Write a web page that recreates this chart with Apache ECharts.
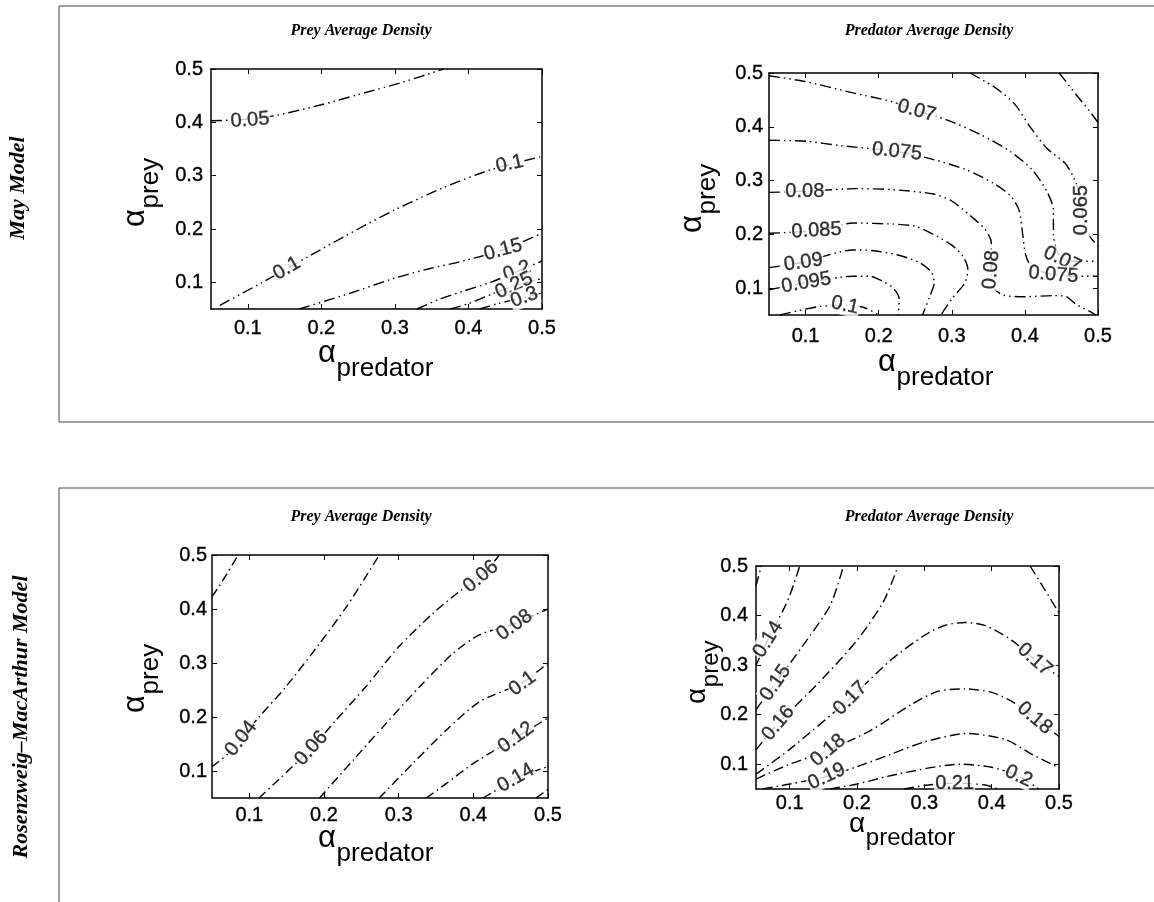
<!DOCTYPE html>
<html>
<head>
<meta charset="utf-8">
<script src="https://cdn.jsdelivr.net/npm/echarts@6/dist/echarts.min.js"></script>
<style>
  html, body { margin: 0; padding: 0; background: #fff; }
  #chart { width: 1154px; height: 902px; }
</style>
</head>
<body>
<div id="chart"></div>
<script>
// Shared axis settings: both parameters run from 0.05 to 0.5
const axisRange = [0.05, 0.5];
const xTicks = [0.1, 0.2, 0.3, 0.4, 0.5];
const yTicks = [0.1, 0.2, 0.3, 0.4, 0.5];

// ---- May model, prey average density ----
const mayPreyLevels = [0.05, 0.1, 0.15, 0.2, 0.25, 0.3];
const mayPreyPaths = [
  [[0.05,0.403],[0.09,0.405],[0.135,0.412],[0.2,0.433],[0.25,0.452],[0.31,0.475],[0.366,0.5]],
  [[0.062,0.057],[0.12,0.1],[0.187,0.152],[0.25,0.2],[0.3,0.236],[0.365,0.277],[0.43,0.311],[0.5,0.336]],
  [[0.17,0.05],[0.24,0.08],[0.3,0.108],[0.348,0.126],[0.384,0.137],[0.447,0.161],[0.5,0.192]],
  [[0.33,0.05],[0.36,0.068],[0.392,0.083],[0.43,0.1],[0.466,0.12],[0.5,0.14]],
  [[0.375,0.05],[0.4,0.06],[0.432,0.078],[0.464,0.094],[0.5,0.107]],
  [[0.415,0.05],[0.44,0.06],[0.476,0.072],[0.5,0.08]]
];
// label anchors: [level index, x, y]
const mayPreyLabels = [[0,0.103,0.404],[1,0.153,0.126],[1,0.456,0.322],[2,0.447,0.161],[3,0.466,0.121],[4,0.462,0.094],[5,0.476,0.072]];
const mayPreyLabelAngles = [4, 30, 12, 15, 20, 25, 20];

// ---- May model, predator average density ----
const mayPredLevels = [0.06, 0.065, 0.07, 0.075, 0.08, 0.085, 0.09, 0.095, 0.1];
const mayPredPaths = [
  [[0.447,0.5],[0.47,0.46],[0.488,0.43],[0.5,0.408]],
  [[0.325,0.5],[0.357,0.475],[0.385,0.444],[0.407,0.4],[0.43,0.36],[0.455,0.332],[0.467,0.305],[0.476,0.27],[0.478,0.245],[0.482,0.215],[0.49,0.194],[0.5,0.178]],
  [[0.05,0.495],[0.1,0.484],[0.165,0.463],[0.22,0.446],[0.252,0.43],[0.293,0.413],[0.34,0.385],[0.38,0.354],[0.41,0.32],[0.43,0.28],[0.439,0.246],[0.439,0.2],[0.443,0.172],[0.451,0.153],[0.47,0.15],[0.5,0.15]],
  [[0.05,0.375],[0.101,0.373],[0.147,0.365],[0.225,0.354],[0.275,0.339],[0.32,0.32],[0.357,0.295],[0.38,0.272],[0.392,0.245],[0.397,0.2],[0.401,0.162],[0.41,0.138],[0.439,0.125],[0.47,0.122],[0.5,0.122]],
  [[0.05,0.278],[0.099,0.28],[0.17,0.285],[0.22,0.283],[0.275,0.275],[0.3,0.262],[0.325,0.235],[0.345,0.21],[0.354,0.185],[0.354,0.134],[0.358,0.1],[0.37,0.087],[0.4,0.084],[0.44,0.086],[0.455,0.085],[0.47,0.07],[0.49,0.056],[0.497,0.05]],
  [[0.05,0.202],[0.115,0.207],[0.165,0.221],[0.22,0.219],[0.25,0.215],[0.28,0.196],[0.3,0.18],[0.315,0.16],[0.322,0.135],[0.318,0.11],[0.3,0.08],[0.285,0.05]],
  [[0.05,0.138],[0.097,0.148],[0.165,0.171],[0.19,0.17],[0.225,0.162],[0.255,0.148],[0.272,0.13],[0.276,0.11],[0.27,0.085],[0.26,0.05]],
  [[0.05,0.097],[0.101,0.11],[0.165,0.122],[0.188,0.122],[0.205,0.113],[0.22,0.1],[0.228,0.08],[0.227,0.05]],
  [[0.065,0.05],[0.09,0.058],[0.12,0.066],[0.154,0.068],[0.18,0.064],[0.2,0.05]]
];
const mayPredLabels = [[1,0.478,0.245],[2,0.252,0.43],[2,0.451,0.153],[3,0.225,0.354],[3,0.439,0.125],[4,0.099,0.28],[4,0.354,0.134],[5,0.115,0.207],[6,0.097,0.148],[7,0.101,0.11],[8,0.154,0.068]];
const mayPredLabelAngles = [90, -15, -25, -6, -5, 0, 85, 3, 8, 10, -12];

// ---- Rosenzweig–MacArthur model, prey average density ----
const rmPreyLevels = [0.02, 0.04, 0.06, 0.08, 0.1, 0.12, 0.14, 0.16];
const rmPreyPaths = [
  [[0.05,0.423],[0.057,0.437],[0.07,0.465],[0.085,0.5]],
  [[0.05,0.108],[0.07,0.13],[0.089,0.16],[0.113,0.2],[0.149,0.256],[0.194,0.336],[0.23,0.404],[0.256,0.46],[0.274,0.5]],
  [[0.113,0.05],[0.14,0.085],[0.183,0.142],[0.216,0.194],[0.256,0.256],[0.3,0.33],[0.346,0.392],[0.381,0.432],[0.41,0.46],[0.435,0.5]],
  [[0.194,0.05],[0.239,0.12],[0.283,0.188],[0.328,0.256],[0.373,0.318],[0.408,0.352],[0.455,0.373],[0.5,0.4]],
  [[0.274,0.05],[0.319,0.114],[0.364,0.176],[0.408,0.228],[0.466,0.264],[0.5,0.3]],
  [[0.337,0.05],[0.364,0.077],[0.4,0.114],[0.457,0.162],[0.5,0.198]],
  [[0.413,0.05],[0.435,0.068],[0.457,0.087],[0.5,0.108]],
  [[0.484,0.05],[0.5,0.066]]
];
const rmPreyLabels = [[1,0.089,0.16],[2,0.183,0.142],[2,0.41,0.46],[3,0.455,0.37],[4,0.466,0.262],[5,0.457,0.162],[6,0.457,0.087]];
const rmPreyLabelAngles = [52, 48, 40, 36, 36, 36, 30];

// ---- Rosenzweig–MacArthur model, predator average density ----
const rmPredLevels = [0.13, 0.14, 0.15, 0.16, 0.17, 0.18, 0.19, 0.2, 0.21, 0.16];
const rmPredPaths = [
  [[0.05,0.46],[0.058,0.5]],
  [[0.05,0.3],[0.068,0.352],[0.09,0.41],[0.1,0.44],[0.115,0.5]],
  [[0.05,0.21],[0.079,0.264],[0.12,0.34],[0.16,0.42],[0.18,0.5]],
  [[0.05,0.129],[0.083,0.183],[0.14,0.26],[0.2,0.35],[0.24,0.43],[0.261,0.5]],
  [[0.05,0.08],[0.1,0.13],[0.19,0.233],[0.25,0.31],[0.3,0.36],[0.33,0.38],[0.36,0.386],[0.39,0.38],[0.43,0.35],[0.464,0.311],[0.5,0.277]],
  [[0.05,0.07],[0.1,0.1],[0.157,0.128],[0.22,0.168],[0.28,0.22],[0.32,0.247],[0.36,0.252],[0.4,0.245],[0.43,0.227],[0.464,0.193],[0.5,0.156]],
  [[0.06,0.05],[0.1,0.06],[0.155,0.075],[0.2,0.095],[0.25,0.12],[0.3,0.145],[0.363,0.162],[0.42,0.15],[0.46,0.12],[0.5,0.093]],
  [[0.16,0.05],[0.2,0.06],[0.26,0.08],[0.353,0.1],[0.4,0.094],[0.44,0.076],[0.47,0.05]],
  [[0.27,0.05],[0.3,0.057],[0.345,0.062],[0.39,0.058],[0.41,0.05]],
  [[0.457,0.5],[0.48,0.45],[0.5,0.405]]
];
const rmPredLabels = [[1,0.068,0.352],[2,0.079,0.264],[3,0.083,0.183],[4,0.19,0.233],[4,0.464,0.311],[5,0.157,0.128],[5,0.464,0.193],[6,0.155,0.075],[7,0.44,0.076],[8,0.345,0.062]];
const rmPredLabelAngles = [58, 55, 50, 45, -42, 40, -40, 25, -25, 0];

// ---- page layout ----
const panels = [
  { levels: mayPreyLevels, paths: mayPreyPaths, labels: mayPreyLabels, angles: mayPreyLabelAngles,
    grid: { left: 211, top: 69, width: 331, height: 240 }, dash: [11, 4, 1.5, 4, 1.5, 4], xMargin: 9, yMargin: 8 },
  { levels: mayPredLevels, paths: mayPredPaths, labels: mayPredLabels, angles: mayPredLabelAngles,
    grid: { left: 769, top: 73, width: 329, height: 242 }, dash: [11, 4, 1.5, 4, 1.5, 4], xMargin: 11, yMargin: 6 },
  { levels: rmPreyLevels, paths: rmPreyPaths, labels: rmPreyLabels, angles: rmPreyLabelAngles,
    grid: { left: 212, top: 555, width: 336, height: 243 }, dash: [9, 4, 1.5, 4], xMargin: 7, yMargin: 5 },
  { levels: rmPredLevels, paths: rmPredPaths, labels: rmPredLabels, angles: rmPredLabelAngles,
    grid: { left: 756, top: 566, width: 303, height: 223 }, dash: [10, 4, 1.5, 4], xMargin: 4, yMargin: 8 }
];

const tickFont = 'Liberation Sans';
const grids = [], xAxes = [], yAxes = [], series = [];

function axisBase(gi, ticks, labelShow, margin, position) {
  return {
    type: 'value', gridIndex: gi, min: axisRange[0], max: axisRange[1], position: position,
    axisLine: { show: true, onZero: false, lineStyle: { color: '#000', width: 1.5 } },
    axisTick: { show: true, inside: true, length: 5, customValues: ticks, lineStyle: { color: '#000', width: 1 } },
    axisLabel: { show: labelShow, customValues: ticks, margin: margin, fontSize: 20, color: '#000',
      textBorderColor: '#000', textBorderWidth: 0.35,
      fontFamily: tickFont, formatter: v => v.toFixed(1) },
    splitLine: { show: false }
  };
}

panels.forEach((p, i) => {
  grids.push(Object.assign({ containLabel: false }, p.grid));
  xAxes.push(axisBase(i, xTicks, true, p.xMargin, 'bottom'));
  xAxes.push(axisBase(i, xTicks, false, 0, 'top'));
  yAxes.push(axisBase(i, yTicks, true, p.yMargin, 'left'));
  yAxes.push(axisBase(i, yTicks, false, 0, 'right'));
  p.paths.forEach(path => {
    series.push({
      type: 'line', xAxisIndex: 2 * i, yAxisIndex: 2 * i, data: path, symbol: 'none', smooth: 0.25,
      clip: true, silent: true, z: 2,
      lineStyle: { color: '#000', width: 1.4, type: p.dash }
    });
  });
  series.push({
    type: 'scatter', xAxisIndex: 2 * i, yAxisIndex: 2 * i, symbolSize: 1, silent: true, z: 5,
    itemStyle: { color: 'rgba(255,255,255,0)' },
    data: p.labels.map((l, j) => ({ value: [l[1], l[2], l[0]], label: { rotate: p.angles[j] } })),
    label: {
      show: true, position: 'inside', fontSize: 20, fontFamily: tickFont, color: '#000',
      textBorderColor: '#000', textBorderWidth: 0.35, backgroundColor: '#fff', padding: [0, 1],
      formatter: d => String(p.levels[d.value[2]])
    }
  });
});

// ---- titles, axis names and panel frames ----
const serif = '"Liberation Serif", "DejaVu Serif", serif';
const sans = '"Liberation Sans", Arial, sans-serif';
const graphics = [];

function text(x, y, str, font, opts) {
  const o = opts || {};
  graphics.push({
    type: 'text', x: x, y: y, rotation: o.rot || 0, silent: true,
    style: { text: str, font: font, fill: '#000', align: o.align || 'center', verticalAlign: o.va || 'middle' }
  });
}

// outer frames of the two model rows
graphics.push({ type: 'rect', shape: { x: 59, y: 6, width: 1120, height: 416 }, silent: true,
  style: { fill: 'none', stroke: '#444', lineWidth: 1 } });
graphics.push({ type: 'rect', shape: { x: 59, y: 488, width: 1120, height: 440 }, silent: true,
  style: { fill: 'none', stroke: '#444', lineWidth: 1 } });

// row labels
text(18, 188, 'May Model', 'italic bold 22px ' + serif, { rot: Math.PI / 2 });
text(21, 717, 'Rosenzweig–MacArthur Model', 'italic bold 22px ' + serif, { rot: Math.PI / 2 });

// panel titles
text(361, 31, 'Prey Average Density', 'italic bold 16px ' + serif);
text(929, 31, 'Predator Average Density', 'italic bold 16px ' + serif);
text(361, 517, 'Prey Average Density', 'italic bold 16px ' + serif);
text(929, 517, 'Predator Average Density', 'italic bold 16px ' + serif);

// α_predator / α_prey axis names
function xName(ax, ay, big, small) {
  text(ax, ay, 'α', big + 'px ' + sans, { align: 'left' });
  text(ax + big * 0.6, ay + big * 0.5, 'predator', small + 'px ' + sans, { align: 'left' });
}
function yName(ax, ay, big, small) {
  text(ax, ay, 'α', big + 'px ' + sans, { align: 'left', rot: Math.PI / 2 });
  text(ax + big * 0.5, ay - big * 0.6, 'prey', small + 'px ' + sans, { align: 'left', rot: Math.PI / 2 });
}
xName(318, 353, 31, 26);
xName(878, 362, 31, 26);
xName(318, 838, 31, 26);
xName(849, 824, 28, 24);
yName(135, 227, 31, 26);
yName(692, 233, 31, 26);
yName(135, 713, 31, 26);
yName(697, 704, 28, 24);

const chart = echarts.init(document.getElementById('chart'), null, { renderer: 'canvas' });
chart.setOption({
  backgroundColor: '#fff',
  animation: false,
  grid: grids,
  xAxis: xAxes,
  yAxis: yAxes,
  series: series,
  graphic: graphics
});
</script>
</body>
</html>
